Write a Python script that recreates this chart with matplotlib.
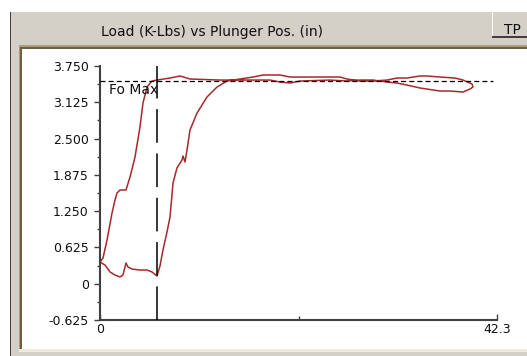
import matplotlib.pyplot as plt
from matplotlib.patches import Rectangle

W, H = 527, 356
BEIGE = '#D4D0C8'
RED = '#A52A2A'

TITLE = 'Load (K-Lbs) vs Plunger Pos. (in)'

# y axis ticks (K-Lbs)
Y_TICKS = [-0.625, 0, 0.625, 1.25, 1.875, 2.5, 3.125, 3.75]
Y_TICK_LABELS = ['-0.625', '0', '0.625', '1.250', '1.875', '2.500', '3.125', '3.750']
Y_MINOR = [-0.3125, 0.3125, 0.9375, 1.5625, 2.1875, 2.8125, 3.4375]

X_TICKS = [0, 42.3]
X_TICK_LABELS = ['0', '42.3']
X_MINOR = [21.15]

FO_MAX = 3.5
FO_MAX_END = 41.9
POS_MARK = 6.07

# load vs plunger position, one closed loop
CURVE_X = [0, 0.53, 1.07, 1.60, 2.13, 2.45, 2.77, 2.98, 3.41, 4.26, 5.01, 5.54, 6.07,
           6.39, 6.71, 7.14, 7.46, 7.78, 8.20, 8.74, 8.84, 9.06, 9.27, 9.59, 10.34,
           11.40, 12.47, 13.53, 14.92,
           16.30, 17.37, 19.18, 20.25, 21.31, 25.57, 26.32, 27.70, 29.09, 30.58, 31.65,
           32.71, 34.10, 34.84, 36.23, 37.83, 38.68, 39.64, 39.74, 39.42, 38.68, 37.29,
           36.23, 34.10, 32.71, 31.65, 30.58, 29.09, 27.70, 26.32, 24.51, 21.31, 20.25,
           19.18, 18.11, 15.24, 12.79, 9.59, 8.52, 7.46, 6.07, 5.54,
           5.01, 4.58, 4.26, 3.73, 3.20, 2.77, 2.13, 1.81, 1.60, 1.28, 0.75, 0.32, 0]
CURVE_Y = [0.374, 0.322, 0.202, 0.150, 0.116, 0.150, 0.357, 0.288, 0.253, 0.236, 0.236, 0.202, 0.133,
           0.305, 0.581, 0.891, 1.149, 1.735, 1.993, 2.131, 2.200, 2.097, 2.303, 2.648, 2.940,
           3.216, 3.388, 3.491, 3.526,
           3.560, 3.595, 3.595, 3.560, 3.560, 3.560, 3.526, 3.491, 3.491, 3.508, 3.543,
           3.543, 3.578, 3.578, 3.560, 3.543, 3.508, 3.440, 3.388, 3.354, 3.302, 3.319,
           3.319, 3.371, 3.422, 3.457, 3.474, 3.508, 3.508, 3.491, 3.508, 3.491, 3.457,
           3.474, 3.508, 3.508, 3.508, 3.526, 3.578, 3.543, 3.508, 3.491,
           3.388, 3.113, 2.699, 2.182, 1.838, 1.614, 1.614, 1.562, 1.442, 1.218, 0.753, 0.443, 0.374]


def rect(fig, x0, y0, x1, y1, color):
    # pixel box (top-left origin) -> figure fraction
    fig.patches.append(Rectangle((x0 / W, 1 - y1 / H), (x1 - x0) / W, (y1 - y0) / H,
                                 transform=fig.transFigure, facecolor=color,
                                 edgecolor='none', zorder=-5))


fig = plt.figure(figsize=(W / 100, H / 100), dpi=100, facecolor=BEIGE)

# window chrome
rect(fig, 0, 0, W, 12, 'white')
rect(fig, 0, 0, 10, H, 'white')
rect(fig, 10, 12, 11, H, '#404040')
rect(fig, 492, 12, 493, 37, 'white')
rect(fig, 492, 36, W, 38, '#404040')
# sunken plot panel
rect(fig, 19, 45, W, 352, '#B09A78')
rect(fig, 20, 47, W, 350, '#6E5E48')
rect(fig, 19, 349, W, 352, '#EEEAE2')
rect(fig, 22, 49, W, 349, 'white')

fig.text(212 / W, 1 - 32 / H, TITLE, ha='center', va='center', fontsize=10, color='#101010')
fig.text(512 / W, 1 - 30 / H, 'TP', ha='center', va='center', fontsize=10, color='#101010')

ax = fig.add_axes([100 / W, 1 - 320 / H, 397 / W, 254 / H], zorder=2)
ax.patch.set_visible(False)
ax.set_xlim(0, 42.3)
ax.set_ylim(-0.625, 3.75)

for s in ['top', 'right']:
    ax.spines[s].set_visible(False)
for s in ['left', 'bottom']:
    ax.spines[s].set_color('#404040')
    ax.spines[s].set_linewidth(1.5)

ax.set_yticks(Y_TICKS)
ax.set_yticklabels(Y_TICK_LABELS)
ax.set_yticks(Y_MINOR, minor=True)
ax.set_xticks(X_TICKS)
ax.set_xticklabels(X_TICK_LABELS)
ax.set_xticks(X_MINOR, minor=True)

ax.tick_params(axis='y', which='major', direction='out', length=4, width=1, pad=4,
               labelsize=9, color='#404040', labelcolor='#101010')
ax.tick_params(axis='y', which='minor', direction='out', length=2.5, width=1, color='#404040')
ax.tick_params(axis='x', which='major', direction='in', length=4, width=1, pad=2,
               labelsize=9, color='#404040', labelcolor='#101010')
ax.tick_params(axis='x', which='minor', direction='in', length=3, width=1, color='#404040')

ax.plot(CURVE_X, CURVE_Y, color=RED, lw=1.1, zorder=2)
ax.plot([0, FO_MAX_END], [FO_MAX, FO_MAX], color='black', lw=0.9, dashes=(4, 2.5), zorder=3)
ax.plot([POS_MARK, POS_MARK], [-0.625, 3.75], color='black', lw=1.1, dashes=(22, 7), zorder=3)
ax.text(0.96, 3.34, 'Fo Max', ha='left', va='center', fontsize=10, color='#101010')

fig.savefig('out.png', dpi=100, facecolor=BEIGE)
